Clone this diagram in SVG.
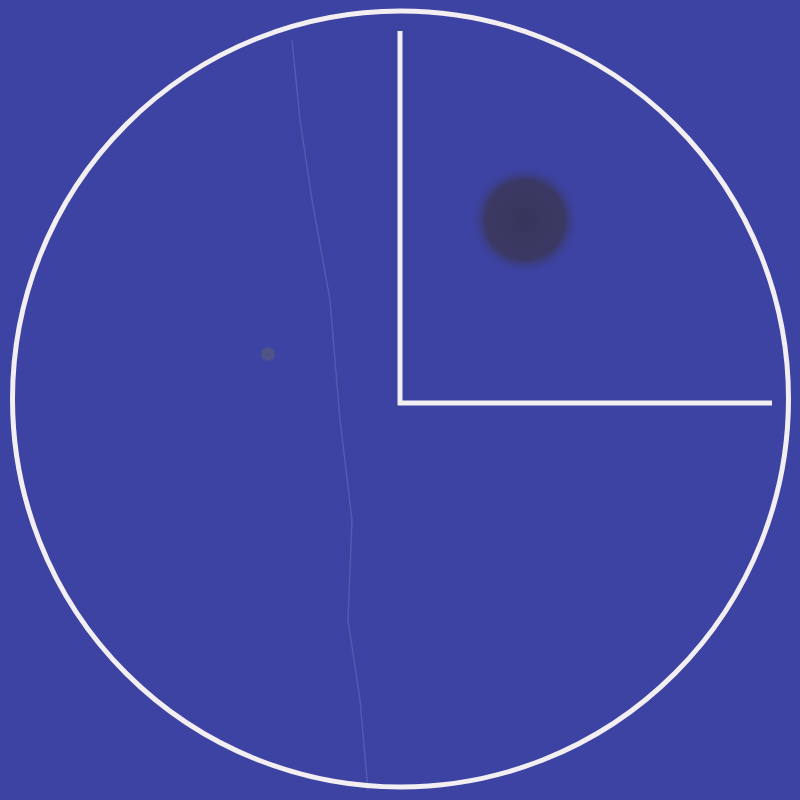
<svg xmlns="http://www.w3.org/2000/svg" width="800" height="800" viewBox="0 0 800 800">
  <defs>
    <radialGradient id="blob" cx="0.5" cy="0.5" r="0.5">
      <stop offset="0" stop-color="#38355c"/>
      <stop offset="0.72" stop-color="#3b3864"/>
      <stop offset="1" stop-color="#3c43a2" stop-opacity="0"/>
    </radialGradient>
    <radialGradient id="dot" cx="0.5" cy="0.5" r="0.5">
      <stop offset="0" stop-color="#4e527e"/>
      <stop offset="0.6" stop-color="#51558a"/>
      <stop offset="1" stop-color="#3c43a2" stop-opacity="0"/>
    </radialGradient>
    <style>
      .line { fill: none; stroke: #f2eef2; stroke-width: 5; }
    </style>
  </defs>
  <rect width="800" height="800" fill="#3c43a2"/>
  <path d="M292 40 L300 120 L312 200 L330 300 L340 420 L352 520 L348 620 L360 700 L368 790" fill="none" stroke="#7077c0" stroke-width="1.5" opacity="0.45"/>
  <circle cx="525" cy="220" r="55" fill="url(#blob)"/>
  <circle cx="268" cy="354" r="9" fill="url(#dot)"/>
  <circle class="line" cx="400.5" cy="399" r="388"/>
  <path class="line" d="M400 31 L400 403 L772 403" stroke-width="6"/>
</svg>
